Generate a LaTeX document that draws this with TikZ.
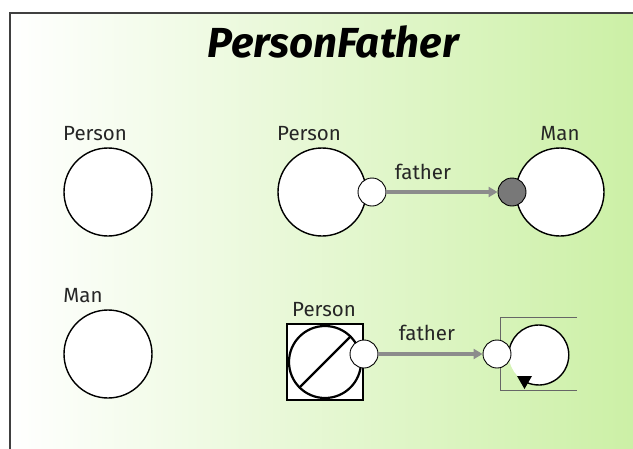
\documentclass[tikz,border=0pt]{standalone}
\usepackage{fontspec}
\setmainfont{Fira Sans}
\usetikzlibrary{arrows.meta}
\definecolor{bggreen}{RGB}{204,240,166}
\definecolor{linkgray}{RGB}{140,140,140}
\definecolor{portdark}{RGB}{120,120,120}
\begin{document}
\begin{tikzpicture}[x=1pt,y=1pt,
  cls/.style={circle,draw,line width=1.4pt,fill=white,minimum size=88pt,inner sep=0pt},
  port/.style={circle,draw,line width=0.9pt,fill=white,minimum size=28pt,inner sep=0pt},
  lbl/.style={font=\fontsize{20.5}{24}\selectfont,text=black!85,inner sep=0pt},
  link/.style={linkgray,line width=3.5pt,-{Triangle[length=9pt,width=10pt]}}]
\useasboundingbox (0,0) rectangle (633,-448);
\clip (0,0) rectangle (633,-448);
\shade[left color=white,right color=bggreen] (10,-13) rectangle (633,-448);
\draw[line width=1.5pt,black!75] (10,-460) -- (10,-13) -- (640,-13);
\node[font=\fontsize{42}{48}\selectfont\bfseries\itshape] (title) at (333,-42) {PersonFather};
% left column
\node[cls] (person) at (108,-192) {};
\node[lbl] (personlbl) at (95,-134) {Person};
\node[cls] (man) at (108,-354) {};
\node[lbl] (manlbl) at (83,-296) {Man};
% Person --father--> Man
\node[cls] (src) at (322,-192) {};
\node[lbl] (srclbl) at (309,-134) {Person};
\node[cls] (dst) at (560,-192) {};
\node[lbl] (dstlbl) at (560,-134) {Man};
\node[port] (srcport) at (372,-192) {};
\node[port,fill=portdark] (dstport) at (512,-192) {};
\draw[link] (srcport) -- (dstport);
\node[lbl] (fatherA) at (423,-172) {father};
% negated Person --father--> self
\node[draw,line width=2.8pt,fill=white,minimum size=76pt,inner sep=0pt] (neg) at (325,-362) {};
\node[circle,draw,line width=2.2pt,minimum size=72pt,inner sep=0pt] (negc) at (neg) {};
\draw[line width=2.2pt] (negc.225) -- (negc.45);
\node[lbl] (neglbl) at (324,-310) {Person};
\draw[black!60] (577,-317) -- (500,-317) -- (500,-390) -- (577,-390);
\node[circle,fill=white,minimum size=60pt,inner sep=0pt] (self) at (539,-355) {};
\draw[line width=1.4pt] (self.180) arc[start angle=180,end angle=-115,radius=30pt];
\fill (517,-376) -- (532,-376) -- (524.5,-389) -- cycle;
\node[port] (negport) at (364,-354) {};
\node[port] (selfport) at (497,-354) {};
\draw[link] (negport) -- (selfport);
\node[lbl] (fatherB) at (427,-333) {father};
\end{tikzpicture}
\end{document}
